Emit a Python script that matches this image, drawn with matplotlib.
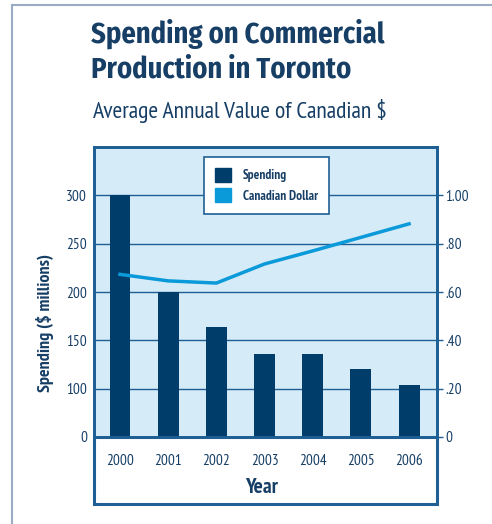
import numpy as np
import matplotlib
matplotlib.use("Agg")
import matplotlib.pyplot as plt
from matplotlib.patches import Rectangle
from matplotlib.lines import Line2D

years = ["2000", "2001", "2002", "2003", "2004", "2005", "2006"]
spending = [300, 200, 164, 136, 136, 120, 104]
cad_dollar = [0.673, 0.646, 0.637, 0.716, 0.770, 0.826, 0.882]
left_ticks = [0, 100, 150, 200, 250, 300]
right_ticks = [0, 0.2, 0.4, 0.6, 0.8, 1.0]
right_labels = ["0", ".20", ".40", ".60", ".80", "1.00"]

NAVY = "#003d6b"
TEXT = "#173f66"
BORDER = "#1f5f94"
FILL = "#d5ebf8"
LINE = "#0a9ad9"
FRAME = "#9aabc3"

plt.rcParams['font.family'] = ['PT Sans Narrow', 'DejaVu Sans']

W, H = 492, 524
fig = plt.figure(figsize=(W / 100, H / 100), dpi=100)

def fx(px):
    return px / W

def fy(py):
    return 1 - py / H

# outer frame
fig.add_artist(Line2D([fx(12), fx(12)], [fy(5), 0], color=FRAME, lw=1.5, transform=fig.transFigure))
fig.add_artist(Line2D([fx(12), 1], [fy(5), fy(5)], color=FRAME, lw=1.5, transform=fig.transFigure))

# titles
title_font = ['Fira Sans Condensed', 'PT Sans Narrow', 'DejaVu Sans']
fig.text(fx(91), fy(43), "Spending on Commercial", fontsize=20.5, family=title_font,
         fontweight='bold', color=TEXT, ha='left', va='baseline')
fig.text(fx(91), fy(77), "Production in Toronto", fontsize=20.5, family=title_font,
         fontweight='bold', color=TEXT, ha='left', va='baseline')
fig.text(fx(93), fy(118), "Average Annual Value of Canadian $", fontsize=17,
         color=TEXT, ha='left', va='baseline')

# white box below plot
fig.add_artist(Rectangle((fx(94), fy(504)), fx(437) - fx(94), fy(437) - fy(504),
                         transform=fig.transFigure, facecolor='white', edgecolor=BORDER,
                         lw=2.2, zorder=0))

x0, x1, y0, y1 = 94, 437, 147, 437
ax = fig.add_axes([fx(x0), fy(y1), fx(x1) - fx(x0), fy(y0) - fy(y1)])
ax.set_facecolor(FILL)

def fwd(v):
    v = np.asarray(v, dtype=float)
    return np.where(v < 100, 50 + v / 2, v)

def inv(t):
    t = np.asarray(t, dtype=float)
    return np.where(t < 100, (t - 50) * 2, t)

ax.set_yscale('function', functions=(fwd, inv))
ax.set_ylim(0, 350)
x = np.arange(len(years))
ax.bar(x, spending, width=0.435, color=NAVY, zorder=3)
ax.set_xlim(-0.54, 6.58)
ax.set_yticks(left_ticks)
ax.set_yticklabels([str(t) for t in left_ticks])
ax.yaxis.grid(True, color=BORDER, lw=1.0, zorder=1)
ax.set_axisbelow(True)
ax.tick_params(axis='y', length=0, pad=5, labelsize=11, labelcolor=TEXT)
ax.set_xticks(x)
ax.set_xticklabels(years)
ax.tick_params(axis='x', length=0, pad=12, labelsize=11, labelcolor=TEXT)
ax.minorticks_off()
for s in ax.spines.values():
    s.set_color(BORDER)
    s.set_linewidth(2)
ax.set_ylabel("Spending ($ millions)", fontsize=13, fontweight='bold', color=TEXT)
ax.yaxis.set_label_coords((54 - x0) / (x1 - x0), (437 - 323) / (y1 - y0))
fig.text(fx(262), fy(493), "Year", fontsize=15.5, fontweight='bold', color=TEXT,
         ha='center', va='baseline')

ax2 = ax.twinx()
ax2.plot(x, cad_dollar, color=LINE, lw=2.5, zorder=4)
ax2.set_ylim(0, 1.2)
ax2.set_yticks(right_ticks)
ax2.set_yticklabels(right_labels)
ax2.tick_params(axis='y', length=4, width=1, color=BORDER, pad=2, labelsize=11, labelcolor=TEXT)
for s in ax2.spines.values():
    s.set_color(BORDER)
    s.set_linewidth(2)

handles = [Rectangle((0, 0), 1, 1, color=NAVY), Rectangle((0, 0), 1, 1, color=LINE)]
leg = ax2.legend(handles, ["Spending", "Canadian Dollar"], loc='upper left',
                 bbox_to_anchor=((204 - x0) / (x1 - x0), 1 - (157 - y0) / (y1 - y0)),
                 frameon=True, fancybox=False, fontsize=9.5, handlelength=1.2, handleheight=1.2,
                 borderpad=0.85, labelspacing=0.45, handletextpad=0.9, borderaxespad=0,
                 framealpha=1)
leg.get_frame().set_edgecolor(BORDER)
leg.get_frame().set_linewidth(1.2)
leg.set_zorder(10)
for t in leg.get_texts():
    t.set_fontweight('bold')
    t.set_color(TEXT)

fig.savefig("out.png", dpi=100)
